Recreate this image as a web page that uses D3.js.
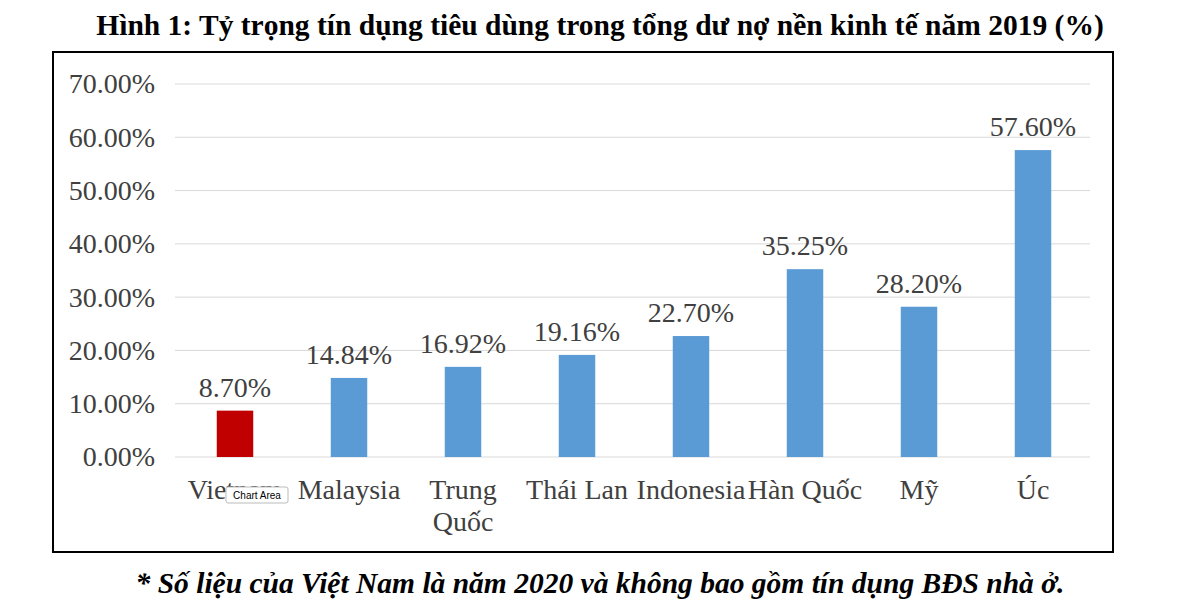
<!DOCTYPE html>
<html><head><meta charset="utf-8">
<script src="https://cdn.jsdelivr.net/npm/d3@7"></script>
<style>body{margin:0;background:#fff;font-family:"Liberation Serif","Times New Roman",serif;}</style>
</head><body><svg id="chart" width="1200" height="608"></svg>
<script>
var countries = ["Vietnam", "Malaysia", "Trung Quốc", "Thái Lan", "Indonesia", "Hàn Quốc", "Mỹ", "Úc"];
var shares = [8.70, 14.84, 16.92, 19.16, 22.70, 35.25, 28.20, 57.60];
var yTicks = [0, 10, 20, 30, 40, 50, 60, 70];

var svg = d3.select("#chart");

// Title
svg.append("text").attr("x", 600).attr("y", 35).attr("text-anchor", "middle")
    .attr("font-size", 29.5).attr("font-weight", "bold")
    .text("Hình 1: Tỷ trọng tín dụng tiêu dùng trong tổng dư nợ nền kinh tế năm 2019 (%)");

// Chart area border
svg.append("rect").attr("x", 53).attr("y", 52).attr("width", 1060).attr("height", 500)
    .attr("fill", "none").attr("stroke", "#000").attr("stroke-width", 2);

var x = d3.scaleBand().domain(countries).range([178, 1090]).paddingInner(0.68).paddingOuter(0.34);
var y = d3.scaleLinear().domain([0, 70]).range([457, 84]);

// Gridlines
svg.append("g").selectAll("line").data(yTicks).enter().append("line")
    .attr("x1", 175).attr("x2", 1090)
    .attr("y1", d => y(d)).attr("y2", d => y(d))
    .attr("stroke", "#d9d9d9").attr("stroke-width", 1);

// Y axis
var yAxis = svg.append("g").attr("transform", "translate(175,0)")
    .call(d3.axisLeft(y).tickValues(yTicks).tickSize(0).tickPadding(20).tickFormat(d => d.toFixed(2) + "%"));
yAxis.select(".domain").remove();
yAxis.selectAll("text").attr("font-size", 28).attr("font-family", "Liberation Serif").attr("fill", "#404040");

// Bars
svg.append("g").selectAll("rect").data(countries).enter().append("rect")
    .attr("x", d => x(d)).attr("width", x.bandwidth())
    .attr("y", (d, i) => y(shares[i])).attr("height", (d, i) => y(0) - y(shares[i]))
    .attr("fill", (d, i) => i === 0 ? "#c00000" : "#5b9bd5");

// Value labels
svg.append("g").selectAll("text").data(countries).enter().append("text")
    .attr("x", d => x(d) + x.bandwidth() / 2)
    .attr("y", (d, i) => y(shares[i]) - 14)
    .attr("text-anchor", "middle").attr("font-size", 28).attr("fill", "#404040")
    .text((d, i) => shares[i].toFixed(2) + "%");

// Category labels
var cat = svg.append("g").selectAll("text").data(countries).enter().append("text")
    .attr("x", d => x(d) + x.bandwidth() / 2).attr("y", 499)
    .attr("text-anchor", "middle").attr("font-size", 28).attr("fill", "#404040");
cat.each(function(d) {
    var t = d3.select(this);
    if (d === "Trung Quốc") {
        t.append("tspan").attr("x", x(d) + x.bandwidth() / 2).text("Trung");
        t.append("tspan").attr("x", x(d) + x.bandwidth() / 2).attr("dy", 32).text("Quốc");
    } else {
        t.text(d);
    }
});

// "Chart Area" tooltip
var tip = svg.append("g").attr("transform", "translate(226,487)");
tip.append("rect").attr("width", 62).attr("height", 16).attr("fill", "#fff")
    .attr("stroke", "#bbb").attr("rx", 2);
tip.append("text").attr("x", 31).attr("y", 12).attr("text-anchor", "middle")
    .attr("font-size", 10).attr("font-family", "Liberation Sans").text("Chart Area");

// Footnote
svg.append("text").attr("x", 600).attr("y", 593).attr("text-anchor", "middle")
    .attr("font-size", 29.5).attr("font-weight", "bold").attr("font-style", "italic")
    .text("* Số liệu của Việt Nam là năm 2020 và không bao gồm tín dụng BĐS nhà ở.");
</script></body></html>
